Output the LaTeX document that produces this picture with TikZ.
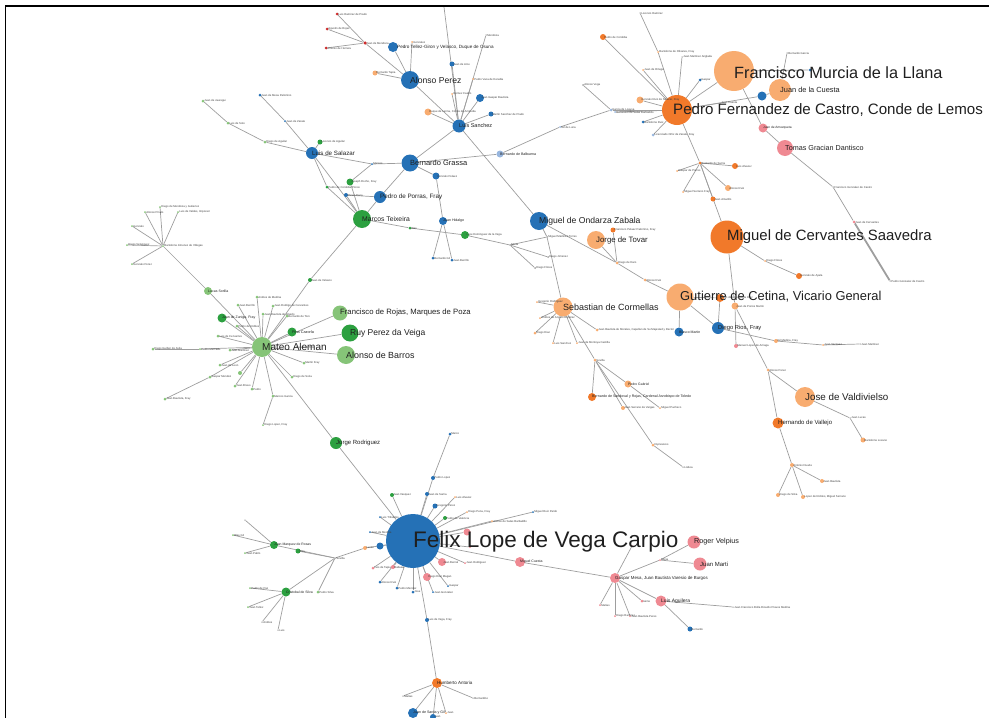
\documentclass[tikz,border=0pt]{standalone}
\usepackage{fontspec}
\setmainfont{Liberation Sans}
\pgfdeclarelayer{edges}
\pgfsetlayers{edges,main}
\definecolor{cb}{RGB}{37,113,182}
\definecolor{cg}{RGB}{44,160,64}
\definecolor{clg}{RGB}{134,196,120}
\definecolor{co}{RGB}{241,121,42}
\definecolor{clo}{RGB}{248,172,112}
\definecolor{cp}{RGB}{239,137,146}
\definecolor{clb}{RGB}{152,182,222}
\definecolor{cr}{RGB}{205,45,45}
\definecolor{ce}{RGB}{158,158,158}
\newcommand\gF[1]{\fontsize{#1}{#1}\selectfont}
\newcommand\gN[4]{\node[vtx,fill=#4,minimum size=#3pt] (#1) at (#2) {};}
\newcommand\gL[3]{\node[lab,font=\gF{#2}] (#1l) at (#1.center) {#3};}
\newcommand\gT[2]{\node[lab,font=\gF{2.8},text=black!75] (#1l) at ([xshift=1.2pt]#1.center) {#2};}
\newcommand\gE[2]{\draw[edge] (#1) -- (#2);}
\begin{document}
\begin{tikzpicture}[x=1pt,y=-1pt,
  vtx/.style={circle,inner sep=0pt,draw=none},
  edge/.style={draw=ce,line width=0.7pt},
  lab/.style={anchor=west,inner sep=0pt,text=black!88}]
\useasboundingbox (0,0) rectangle (989,718);
\draw[line width=1.3pt] (5.5,718) -- (5.5,6) -- (989,6);
% ---------------- top blue group
\gN{ap}{410,80}{18}{cb}
\gN{pt}{393,47}{10}{cb}
\gN{rh}{365,43}{3.5}{cr}
\gN{ra}{337,14}{3}{cr}
\gN{rb}{327,29}{3}{cr}
\gN{rc}{326,48}{3}{cr}
\gN{ota}{375,73}{5}{clo}
\gN{oga}{412,42}{2}{clo}
\gN{ls}{459,126}{13}{cb}
\gN{bba}{452,64}{5}{cb}
\gN{ooa}{473,79}{2}{clo}
\gN{oob}{452,94}{2}{clo}
\gN{bbb}{480,98}{8}{cb}
\gN{ooc}{428,112}{7}{clo}
\gN{bbc}{491,114}{5}{cb}
\gN{mz}{486,35}{1.5}{ce}
\coordinate (tp) at (444,7);
\gN{bg}{410,163}{17}{cb}
\gN{mk}{372,164}{2}{cb}
\gN{bbd}{436,176}{7}{cb}
\gN{lba}{500,154}{7}{clb}
\gN{lbb}{560,127}{2}{clb}
\gN{lbc}{583,85}{2}{ce}
\gN{lbd}{611,110}{3}{clb}
\gN{lsz}{312,153}{12}{cb}
\gN{gsb}{320,142}{5}{cg}
\gN{ssa}{265,142}{3}{clg}
\gN{ssb}{228,123}{3}{clg}
\gN{ssc}{203,101}{3}{clg}
\gN{ssd}{260,95}{3}{cb}
\gN{sse}{285,121}{2}{cb}
\gN{gsc}{327,187}{3}{cg}
\gN{gsd}{350,182}{7}{cg}
\gN{bse}{346,195}{4}{cb}
\gN{mt}{362,219}{18}{cg}
\gN{pp}{380,197}{12}{cb}
\gN{gse}{410,228}{3}{cg}
\gN{gsf}{465,235}{8}{cg}
\gN{hm}{510,245}{2}{ce}
\gN{xa}{547,237}{2}{ce}
\gN{xb}{548,257}{2}{ce}
\gN{xc}{535,268}{2}{ce}
\gN{jh}{443,221}{8}{cb}
\gN{bbf}{433,258}{3}{cb}
\gN{bbg}{452,260}{3}{cb}
\gN{mo}{539,221}{18}{cb}
% ---------------- orange group
\gN{jt}{596,240}{18}{clo}
\gN{ood}{613,230}{5}{co}
\gN{ya}{617,263}{3}{clo}
\gN{yb}{645,280}{3}{clo}
\gN{seb}{563,307}{19}{clo}
\gN{sa}{537,302}{2}{clo}
\gN{sb}{540,318}{2}{clo}
\gN{sc}{535,333}{3}{clo}
\gN{sd}{553,343}{2}{clo}
\gN{se}{577,343}{2}{clo}
\gN{sf}{597,330}{3}{clo}
\gN{sg}{595,360}{3}{clo}
\gN{sh}{628,384}{7}{clo}
\gN{si}{592,397}{8}{co}
\gN{sj}{623,408}{4}{clo}
\gN{sk}{660,408}{2}{clo}
\gN{sl}{653,445}{3}{clo}
\gN{sm}{683,467}{1.5}{ce}
\gN{gc}{680,297}{27}{clo}
\gN{bm}{679,332}{9}{cb}
\gN{ooe}{720,298}{8}{co}
\gN{dr}{718,328}{12}{cb}
\gN{mc}{727,237}{33}{co}
\gN{oof}{735,306}{7}{clo}
\gN{pka}{736,346}{4}{cp}
\gN{oog}{768,370}{3}{clo}
\gN{ooh}{776,341}{4}{clo}
\gN{ooi}{823,345}{2}{clo}
\gN{ooj}{860,344}{1.5}{ce}
\gN{ook}{765,261}{2}{clo}
\gN{ool}{799,276}{6}{co}
\gN{hb}{700,163}{3}{co}
\gN{hba}{677,171}{2}{clo}
\gN{hbb}{683,192}{2}{clo}
\gN{hbc}{735,166}{6}{co}
\gN{hbd}{728,188}{6}{clo}
\gN{hbe}{713,199}{5}{co}
\gN{pf}{677,110}{30}{co}
\gN{fmu}{734,71}{40}{clo}
\gN{jc}{780,90}{22}{clo}
\gN{bbh}{762,96}{9}{cb}
\gN{bbi}{810,70}{3}{cb}
\gN{pkb}{763,128}{9}{cp}
\gN{tg}{785,148}{16}{cp}
\gN{xd}{833,187}{1.5}{ce}
\gN{pkc}{854,222}{3}{cp}
\gN{xe}{890,281}{1.5}{ce}
\gN{xf}{787,53}{1.5}{ce}
\gN{oom}{603,37}{6}{co}
\gN{xg}{640,13}{1.5}{ce}
\gN{xh}{658,52}{2}{clo}
\gN{xi}{643,70}{2}{clo}
\gN{xj}{682,57}{1.5}{ce}
\gN{bbj}{700,80}{3}{cb}
\gN{oon}{640,100}{7}{clo}
\gN{xk}{720,103}{1.5}{ce}
\gN{lbe}{615,112}{2}{clb}
\gN{bbk}{643,122}{3}{cb}
\gN{bbl}{653,135}{3}{clb}
\gN{jv}{805,397}{20}{clo}
\gN{ooo}{850,418}{1.5}{ce}
\gN{oop}{863,440}{5}{clo}
\gN{hv}{778,423}{11}{co}
\gN{ooq}{792,465}{4}{clo}
\gN{oor}{822,481}{4}{clo}
\gN{oos}{778,495}{4}{clo}
\gN{oot}{803,497}{4}{clo}
% ---------------- green group
\gN{ma}{262,347}{20}{clg}
\gN{fr}{340,313}{15}{clg}
\gN{rp}{350,333}{17}{cg}
\gN{ab}{346,355}{18}{clg}
\gN{gz}{292,332}{9}{cg}
\gN{lso}{208,291}{8}{clg}
\gN{zf}{222,318}{9}{cg}
\gN{bh}{163,246}{2}{clg}
\gN{bha}{160,207}{2}{clg}
\gN{bhb}{145,212}{2}{clg}
\gN{bhc}{178,212}{2}{clg}
\gN{bhd}{132,226}{2}{clg}
\gN{bhe}{127,245}{2}{clg}
\gN{bhf}{132,264}{2}{clg}
\gN{gm}{310,280}{4}{cg}
\gN{maa}{257,297}{3}{clg}
\gN{mab}{238,305}{3}{clg}
\gN{mac}{273,306}{3}{clg}
\gN{mad}{263,314}{3}{clg}
\gN{mae}{287,316}{3}{clg}
\gN{maf}{237,326}{3}{clg}
\gN{mag}{218,336}{3}{clg}
\gN{mah}{230,350}{3}{clg}
\gN{mai}{200,349}{2}{clg}
\gN{maj}{153,349}{3}{clg}
\gN{mak}{220,365}{3}{clg}
\gN{mal}{240,373}{4}{clg}
\gN{mam}{210,377}{3}{clg}
\gN{man}{235,386}{3}{clg}
\gN{mao}{252,389}{3}{clg}
\gN{map}{273,396}{3}{clg}
\gN{maq}{292,377}{3}{clg}
\gN{mar}{304,363}{3}{clg}
\gN{mas}{165,399}{3}{clg}
\gN{mat}{263,425}{2}{clg}
\gN{jr}{336,443}{12}{cg}
% ---------------- Felix
\gN{fl}{413,541}{54}{cb}
\gN{fa}{392,495}{4}{cg}
\gN{fb}{427,494}{4}{cb}
\gN{fc}{455,497}{2}{clo}
\gN{fd}{435,506}{5}{cb}
\gN{fe}{445,518}{4}{cg}
\gN{ff}{467,512}{2}{clo}
\gN{fg}{533,512}{2}{cb}
\gN{fh}{492,521}{2}{clo}
\gN{fi}{467,532}{7}{cp}
\gN{fj}{380,517}{2}{cb}
\gN{fk}{370,532}{2}{cb}
\gN{fmm}{380,546}{7}{cb}
\gN{fn}{365,548}{4}{clo}
\gN{fo}{470,547}{2}{cp}
\gN{fp}{442,562}{8}{cp}
\gN{fq}{393,567}{4}{cp}
\gN{fr2}{373,568}{3}{cp}
\gN{fs}{427,577}{8}{cp}
\gN{ft}{380,582}{3}{cb}
\gN{fu}{397,588}{3}{cb}
\gN{fv}{413,592}{3}{cb}
\gN{fw}{433,592}{2}{cb}
\gN{fx}{448,586}{2}{cb}
\gN{fy}{465,563}{2}{cp}
\gN{fz}{427,620}{4}{cb}
\gN{fga}{433,478}{4}{cb}
\gN{fgb}{450,434}{3}{cb}
\gN{fgc}{520,562}{10}{cp}
\gN{ha}{437,683}{10}{co}
\gN{haa}{403,696}{1.5}{ce}
\gN{hab}{473,698}{1.5}{ce}
\gN{hac}{413,713}{10}{cb}
\gN{had}{433,717}{6}{cb}
\gN{hae}{446,713}{2}{clo}
\gN{lh}{335,558}{2}{ce}
\gN{gma}{274,545}{8}{cg}
\gN{gmb}{298,551}{5}{cg}
\gN{gmc}{286,592}{9}{cg}
\gN{gmd}{318,592}{3}{clg}
\gN{gaa}{233,535}{2}{clg}
\gN{gab}{245,553}{2}{clg}
\gN{gac}{245,520}{1.5}{ce}
\gN{gba}{250,588}{2}{clg}
\gN{gbb}{248,607}{2}{clg}
\gN{gbc}{262,622}{1.5}{ce}
\gN{gbd}{278,630}{1.5}{ce}
% ---------------- pink group
\gN{ph}{615,578}{10}{cp}
\gN{pa}{600,605}{2}{cp}
\gN{pb}{615,616}{2}{cp}
\gN{pc}{630,616}{2}{cp}
\gN{pd}{642,601}{3}{cp}
\gN{la}{661,601}{11}{cp}
\gN{pe}{733,607}{1.5}{ce}
\gN{pg}{690,629}{5}{cb}
\gN{pi}{660,560}{2}{cp}
\gN{rv}{694,542}{13}{cp}
\gN{jm}{700,564}{13}{cp}
\gN{pj}{632,546}{2}{cp}
% ================= edges
\begin{pgfonlayer}{edges}
\gE{ap}{pt}\gE{ap}{rh}\gE{rh}{ra}\gE{rh}{rb}\gE{rh}{rc}\gE{ap}{ota}\gE{ap}{oga}\gE{ap}{ls}
\gE{ls}{tp}\gE{ls}{mz}\gE{ls}{bba}\gE{ls}{ooa}\gE{ls}{oob}\gE{ls}{bbb}\gE{ls}{ooc}\gE{ls}{bbc}
\gE{ls}{bg}\gE{ls}{mo}
\gE{bg}{mk}\gE{mk}{lsz}\gE{mk}{gsd}\gE{bg}{bbd}\gE{bbd}{jh}\gE{bg}{lba}\gE{lba}{lbb}\gE{lbb}{lbd}
\gE{lbc}{lbd}\gE{lbd}{pf}\gE{bg}{pp}\gE{pp}{mt}\gE{pp}{bse}
\gE{lsz}{gsb}\gE{lsz}{ssa}\gE{ssa}{ssb}\gE{ssb}{ssc}\gE{lsz}{sse}\gE{sse}{ssd}\gE{lsz}{gsc}
\gE{gsc}{mt}\gE{lsz}{mt}\gE{gsd}{mt}\gE{bse}{mt}\gE{mt}{gse}\gE{gse}{gsf}\gE{gsf}{hm}
\gE{hm}{xa}\gE{hm}{xb}\gE{hm}{xc}\gE{mo}{xa}\gE{xa}{seb}\gE{jh}{bbf}\gE{jh}{bbg}
\gE{mo}{ya}\gE{jt}{ya}\gE{ood}{ya}\gE{ya}{yb}\gE{yb}{gc}
\gE{seb}{sa}\gE{seb}{sb}\gE{seb}{sc}\gE{seb}{sd}\gE{seb}{se}\gE{seb}{sf}\gE{seb}{sg}
\gE{sg}{sh}\gE{sh}{sk}\gE{sg}{si}\gE{sg}{sj}\gE{sg}{sl}\gE{sl}{sm}
\gE{gc}{bm}\gE{gc}{ooe}\gE{gc}{dr}\gE{ooe}{dr}
\gE{mc}{oof}\gE{oof}{pka}\gE{oof}{oog}\gE{oog}{hv}\gE{hv}{ooq}\gE{ooq}{oor}\gE{ooq}{oos}\gE{ooq}{oot}
\gE{oog}{jv}\gE{jv}{ooo}\gE{ooo}{oop}\gE{dr}{ooh}\gE{ooh}{ooi}\gE{ooi}{ooj}
\gE{mc}{ook}\gE{ook}{ool}\gE{mc}{hb}\gE{hb}{pf}\gE{hb}{hba}\gE{hb}{hbb}\gE{hb}{hbc}\gE{hb}{hbd}\gE{hb}{hbe}
\gE{pf}{fmu}\gE{fmu}{pkb}\gE{pkb}{tg}\gE{tg}{xd}\gE{xd}{pkc}
\draw[edge,line width=1.8pt] (pkc) -- (xe);
\gE{pf}{bbh}\gE{bbh}{jc}\gE{jc}{xf}\gE{fmu}{bbi}
\gE{pf}{oom}\gE{pf}{xh}\gE{xh}{xg}\gE{pf}{xi}\gE{pf}{xj}\gE{pf}{bbj}\gE{pf}{oon}\gE{pf}{xk}
\gE{pf}{lbe}\gE{pf}{bbk}\gE{pf}{bbl}
\gE{ma}{fr}\gE{ma}{rp}\gE{ma}{ab}\gE{ma}{gz}\gE{ma}{lso}\gE{lso}{bh}
\gE{bh}{bha}\gE{bh}{bhb}\gE{bh}{bhc}\gE{bh}{bhd}\gE{bh}{bhe}\gE{bh}{bhf}
\gE{ma}{zf}\gE{ma}{gm}\gE{gm}{mt}
\gE{ma}{maa}\gE{ma}{mab}\gE{ma}{mac}\gE{ma}{mad}\gE{ma}{mae}\gE{ma}{maf}\gE{ma}{mag}\gE{ma}{mah}
\gE{ma}{mai}\gE{mai}{maj}\gE{ma}{mak}\gE{ma}{mal}\gE{ma}{mam}\gE{ma}{man}\gE{ma}{mao}\gE{ma}{map}
\gE{ma}{maq}\gE{ma}{mar}\gE{mam}{mas}\gE{map}{mat}\gE{ma}{jr}\gE{jr}{fl}
\gE{fl}{fa}\gE{fl}{fb}\gE{fl}{fc}\gE{fl}{fd}\gE{fl}{fe}\gE{fl}{ff}\gE{fl}{fg}\gE{fl}{fh}\gE{fl}{fi}
\gE{fl}{fj}\gE{fl}{fk}\gE{fl}{fmm}\gE{fl}{fn}\gE{fl}{fo}\gE{fl}{fp}\gE{fl}{fq}\gE{fl}{fr2}\gE{fl}{fs}
\gE{fl}{ft}\gE{fl}{fu}\gE{fl}{fv}\gE{fl}{fw}\gE{fl}{fx}\gE{fl}{fy}\gE{fl}{fz}\gE{fz}{ha}
\gE{fl}{fga}\gE{fga}{fgb}\gE{fl}{fgc}\gE{fgc}{ph}
\gE{ha}{haa}\gE{ha}{hab}\gE{ha}{hac}\gE{ha}{had}\gE{ha}{hae}
\gE{fn}{lh}\gE{lh}{gma}\gE{lh}{gmb}\gE{lh}{gmc}\gE{lh}{gmd}
\gE{gma}{gaa}\gE{gma}{gab}\gE{gma}{gac}\gE{gmc}{gba}\gE{gmc}{gbb}\gE{gmc}{gbc}\gE{gmc}{gbd}
\gE{ph}{pa}\gE{ph}{pb}\gE{ph}{pc}\gE{ph}{pd}\gE{ph}{la}\gE{la}{pe}\gE{la}{pg}
\gE{ph}{pi}\gE{pi}{rv}\gE{pi}{jm}\gE{ph}{pj}
\end{pgfonlayer}
% ================= labels
\gL{ap}{8.6}{Alonso Perez}
\node[lab,font=\gF{4.6}] (ptl) at ([xshift=4pt]pt.center) {Pedro Tellez-Giron y Velasco, Duque de Osuna};
\gL{ls}{5.5}{Luis Sanchez}
\gL{bg}{7.5}{Bernardo Grassa}
\gL{lsz}{6.2}{Luis de Salazar}
\gL{mt}{6.8}{Marcos Teixeira}
\gL{pp}{6.3}{Pedro de Porras, Fray}
\gL{mo}{8.6}{Miguel de Ondarza Zabala}
\gL{jt}{7.8}{Jorge de Tovar}
\gL{seb}{9}{Sebastian de Cormellas}
\gL{gc}{12.9}{Gutierre de Cetina, Vicario General}
\gL{mc}{14.9}{Miguel de Cervantes Saavedra}
\node[lab,font=\gF{15.1}] (pfl) at ([xshift=-4pt]pf.center) {Pedro Fernandez de Castro, Conde de Lemos};
\node[lab,font=\gF{16.3}] (fmul) at ([yshift=-2pt]fmu.center) {Francisco Murcia de la Llana};
\gL{jc}{7.4}{Juan de la Cuesta}
\gL{tg}{7.2}{Tomas Gracian Dantisco}
\gL{jv}{9.8}{Jose de Valdivielso}
\gL{hv}{6}{Hernando de Vallejo}
\gL{dr}{5.8}{Diego Rios, Fray}
\gL{ma}{10}{Mateo Aleman}
\gL{fr}{7.7}{Francisco de Rojas, Marques de Poza}
\gL{rp}{8.5}{Ruy Perez da Veiga}
\gL{ab}{8.9}{Alonso de Barros}
\gL{jr}{6}{Jorge Rodriguez}
\node[lab,font=\gF{22.5}] (fll) at ([yshift=-1pt]fl.center) {Felix Lope de Vega Carpio};
\gL{rv}{7.2}{Roger Velpius}
\gL{jm}{6}{Juan Marti}
\gL{la}{5}{Luis Aguilera}
\gL{ph}{4.4}{Gaspar Mesa, Juan Bautista Varesio de Burgos}
\gL{ha}{4.5}{Humberto Antoria}
\gL{lba}{3.6}{Bernardo de Balbuena}
\gL{jh}{3.6}{Juan Hidalgo}
\gL{gz}{3.8}{Pina Cazorla}
\gL{zf}{3.5}{Juan de Zuniga, Fray}
\gL{lso}{3.5}{Lucas Sorilla}
\gL{bm}{3.5}{Blasco Martin}
\gL{fgc}{3.5}{Miguel Cuesta}
\gL{si}{3.6}{Bernardo de Sandoval y Rojas, Cardenal Arzobispo de Toledo}
\gL{sh}{3.4}{Pedro Gabriel}
\gL{hac}{3.6}{Juan de Sarria y Gil}
\gL{gma}{3.4}{Juan Marquez de Rosas}
\gL{gmc}{3.4}{Cristobal de Silva}
\gL{pkb}{3.2}{Juan de Amezqueta}
% tiny labels
\gT{ra}{Luis Ramirez de Prado}\gT{rb}{Agustin de Rojas}\gT{rc}{Antonio de Herrera}\gT{rh}{Juan de Mendoza}
\gT{ota}{Bernardo Tapia}\gT{oga}{Gonzalez}\gT{bba}{Juan de Arce}\gT{ooa}{Pedro Vaca de Heredia}
\gT{oob}{Gomez Castro}\gT{bbb}{Juan Gaspar Bautista}\gT{ooc}{Duque de Lerma, Conde de Ampudia}
\gT{bbc}{Martin Sanchez de Prado}\gT{mz}{Mendoza}\gT{mk}{Marcos}\gT{bbd}{Gonzalo Pelaez}
\gT{lbb}{Gil de Luna}\gT{lbc}{Alonso Vega}\gT{lbd}{Garcia de Loaysa}\gT{gsb}{Lorenzo de Aguilar}
\gT{ssa}{Diego de Aguilar}\gT{ssb}{Luis de Soto}\gT{ssc}{Juan de Jauregui}\gT{ssd}{Juan de Mesa Palomino}
\gT{sse}{Juan de Zarate}\gT{gsc}{Pedro de Cordoba Ponce}\gT{gsd}{Joseph Rocho, Fray}\gT{bse}{Alvaro Daza}
\gT{gse}{Blas}\gT{gsf}{Lope Dominguez de la Vega}\gT{hm}{Mesa}\gT{xa}{Miguel Martinez Torres}
\gT{xb}{Diego Jimenez}\gT{xc}{Diego Flores}\gT{bbf}{Bernardo Gil}\gT{bbg}{Juan Berrillo}
\gT{ood}{Francisco Pelaez Palomino, Fray}\gT{ya}{Diego de Haro}\gT{yb}{Alonso Ruiz}
\gT{sa}{Gregorio Rodriguez}\gT{sb}{Andres de Angulo Ramirez}\gT{sc}{Diego Diaz}\gT{sd}{Luis Sanchez}
\gT{se}{Juan de Montoya Castilla}\gT{sf}{Juan Bautista de Morales, Capellan de Su Majestad y Rector}
\gT{sg}{Sevilla}\gT{sj}{Juan Serrano de Vargas}\gT{sk}{Miguel Pacheco}\gT{sl}{Impresores}\gT{sm}{Lisboa}
\gT{ooe}{Juan de Amezqueta Ruiz}\gT{oof}{Juan de Porres Martin}\gT{pka}{Manuel Lopez de Arriaga}
\gT{oog}{Alonso Perez}\gT{ooh}{Gil Medina, Fray}\gT{ooi}{Juan Vazquez}\gT{ooj}{Juan Martinez}
\gT{ook}{Diego Flores}\gT{ool}{Gonzalo de Ayala}\gT{hb}{Bernardo de Sarria}\gT{hba}{Gaspar de Porres}
\gT{hbb}{Miguel Serrano Fray}\gT{hbc}{Luis Alvarez}\gT{hbd}{Alonso Ruiz}\gT{hbe}{Juan Amarillo}
\gT{xd}{Francisco Gonzalez de Castro}\gT{pkc}{Juan de Cervantes}\gT{xe}{Pedro Gonzalez de Castro}
\gT{xf}{Bernardo Garcia}\gT{oom}{Pedro de Cordoba}\gT{xg}{Lorenzo Ramirez}\gT{xh}{Bartolome de Olivares, Fray}
\gT{xi}{Juan de Ortega}\gT{xj}{Juan Martinez Anglada}\gT{bbj}{Gaspar}\gT{oon}{Gonzalo Ruiz de Salazar, Fray}
\gT{xk}{Juan Cuesta}\gT{lbe}{Geronimo de Salas Barbadillo}\gT{bbk}{Bartolome Ruiz}
\gT{bbl}{Licenciado Ortiz de Zarate, Fray}\gT{ooo}{Juan Lucas}\gT{oop}{Bartolome Lozano}
\gT{ooq}{Antonio Duarte}\gT{oor}{Juan Bautista}\gT{oos}{Diego de Silva}\gT{oot}{Lopez de Robles, Miguel Serrano}
\gT{bh}{Bartolome Jimenez de Villegas}\gT{bha}{Diego de Mendoza y Gutierrez}\gT{bhb}{Alonso Pinelo}
\gT{bhc}{Luis de Valdes, Impresor}\gT{bhd}{Gonzalo}\gT{bhe}{Diego Velazquez}\gT{bhf}{Gonzalo Perez}
\gT{gm}{Juan de Velasco}\gT{maa}{Andres de Medina}\gT{mab}{Juan Berrillo}\gT{mac}{Juan Rodrigo de Cervantes}
\gT{mad}{Juan Bautista de Alsedo}\gT{mae}{Bernardo de Toro}\gT{maf}{Pedro de Robles}\gT{mag}{Luis de Cervantes}
\gT{mah}{Juan Martinez}\gT{mai}{Pedro Mercado}\gT{maj}{Diego Guillen de Avila}\gT{mak}{Juan de Leon}
\gT{mal}{Alonso de Toro}\gT{mam}{Gaspar Mendez}\gT{man}{Juan Bravo}\gT{mao}{Pedro}\gT{map}{Marcos Garcia}
\gT{maq}{Diego de Soria}\gT{mar}{Martin Fray}\gT{mas}{Juan Bautista, Fray}\gT{mat}{Diego Lopez, Fray}
\gT{fa}{Juan Vasquez}\gT{fb}{Juan de Sarria}\gT{fc}{Luis Alvarez}\gT{fd}{Gregorio Perez}\gT{fe}{Pedro de Valencia}
\gT{ff}{Diego Pena, Fray}\gT{fg}{Miguel Ruiz Pardo}\gT{fh}{Alonso de Salas Barbadillo}
\gT{fj}{Luis Tribaldos}\gT{fk}{Juan de Medina}\gT{fn}{Lucas}
\gT{fp}{Juan Bernal}\gT{fq}{Baltasar}\gT{fr2}{Luis de Tapia}\gT{fs}{Diego Diaz Magan}\gT{ft}{Alonso Ruiz}
\gT{fu}{Pedro Mendez}\gT{fv}{Jose}\gT{fw}{Juan Gonzalez}\gT{fx}{Gaspar}\gT{fy}{Juan Rodriguez}
\gT{fz}{Luis de Vega, Fray}\gT{fga}{Pedro Lopez}\gT{fgb}{Marco}
\gT{haa}{Matias}\gT{hab}{Bernardino}\gT{had}{Juan}\gT{hae}{Juan}
\gT{lh}{Sevilla}\gT{gmb}{Blas}\gT{gmd}{Pedro Silva}\gT{gaa}{Blas Gil}\gT{gab}{Juan Pablo}
\gT{gba}{Pedro de Paz}\gT{gbb}{Juan Tellez}\gT{gbc}{Andres}\gT{gbd}{Luis}
\gT{pa}{Matias}\gT{pb}{Diego Ramirez}\gT{pc}{Juan Bautista Peres}\gT{pd}{Iaime}
\gT{pe}{Juan Francisco Bolla Ricardo Pravos Medina}\gT{pg}{Bernardo}\gT{pi}{Mesa}
\end{tikzpicture}
\end{document}
